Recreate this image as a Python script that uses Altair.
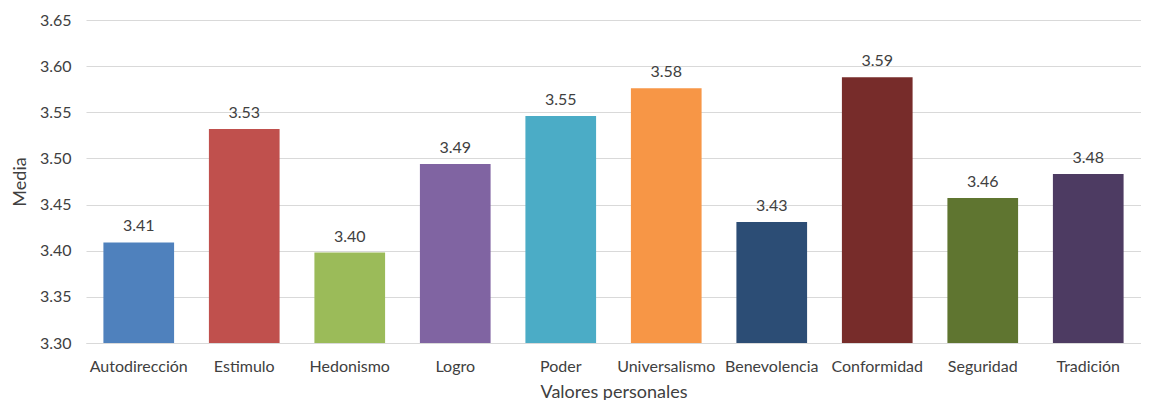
import altair as alt
import pandas as pd

categories = ["Autodirección", "Estimulo", "Hedonismo", "Logro", "Poder",
              "Universalismo", "Benevolencia", "Conformidad", "Seguridad", "Tradición"]
values = [3.409, 3.532, 3.398, 3.494, 3.546, 3.576, 3.431, 3.588, 3.457, 3.483]
colors = ["#4F81BD", "#C0504D", "#9BBB59", "#8064A2", "#4BACC6",
          "#F79646", "#2C4D75", "#772C2A", "#5F7530", "#4D3B62"]
y_ticks = [3.30, 3.35, 3.40, 3.45, 3.50, 3.55, 3.60, 3.65]

df = pd.DataFrame({"cat": categories, "val": values, "col": colors})

FONT = "Lato"
TXT = "#404040"

x = alt.X("cat:N", sort=categories, title="Valores personales",
          scale=alt.Scale(paddingInner=0.33, paddingOuter=0.165),
          axis=alt.Axis(labelAngle=0, labelFont=FONT, labelFontSize=16, labelColor=TXT,
                        labelPadding=15, ticks=False, domain=True, domainColor="#D9D9D9",
                        titleFont=FONT, titleFontSize=18, titleFontWeight="normal",
                        titleColor=TXT, titleY=54, titleBaseline="alphabetic"))
y = alt.Y("val:Q", title="Media",
          scale=alt.Scale(domain=[3.30, 3.65], zero=False, nice=False),
          axis=alt.Axis(values=y_ticks, format=".2f", labelFont=FONT, labelFontSize=16,
                        labelColor=TXT, labelPadding=15, ticks=False, domain=False,
                        gridColor="#D9D9D9", gridWidth=1,
                        titleFont=FONT, titleFontSize=18, titleFontWeight="normal",
                        titleColor=TXT, titlePadding=10))

bars = alt.Chart(df).mark_bar(clip=True).encode(
    x=x, y=y, color=alt.Color("col:N", scale=None))

labels = alt.Chart(df).mark_text(baseline="bottom", dy=-8, font=FONT, fontSize=16,
                                 color=TXT).encode(
    x=alt.X("cat:N", sort=categories), y="val:Q", text=alt.Text("val:Q", format=".2f"))

chart = (bars + labels).properties(
    width=1055, height=323,
    autosize=alt.AutoSizeParams(type="none"),
    padding={"left": 78, "top": 12, "right": 0, "bottom": 57},
).configure_view(stroke=None)

chart.save("out.html", embed_options={"renderer": "svg", "actions": False})
